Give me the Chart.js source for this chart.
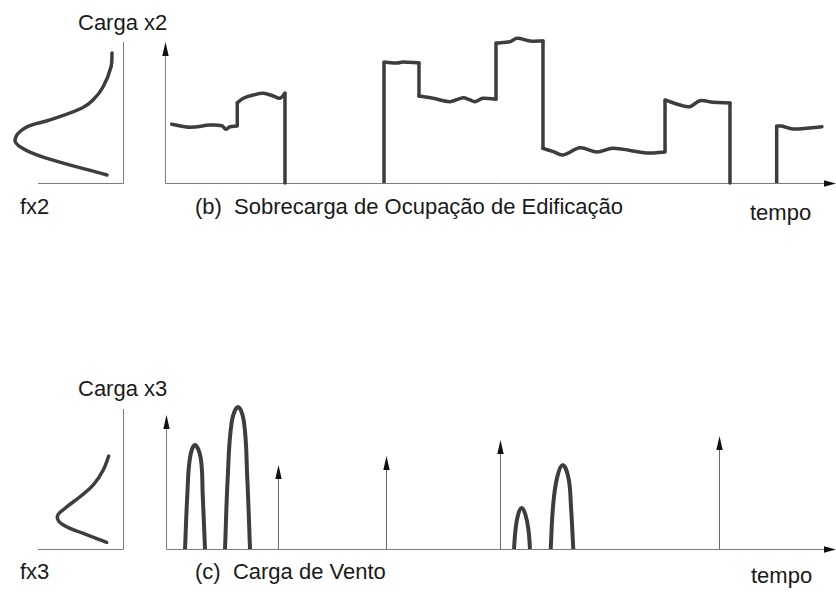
<!DOCTYPE html>
<html lang="pt">
<head>
    <meta charset="UTF-8">
    <title>Carga x2 e Carga x3 ao longo do tempo</title>
    <style>
        body { margin: 0; width: 836px; height: 592px; position: relative; overflow: hidden; background: #fff;
               font-family: "Liberation Sans", Arial, sans-serif; }
        canvas { position: absolute; }
        .lbl { position: absolute; font-size: 22px; line-height: 22px; color: #1a1a1a; white-space: pre; }
    </style>
    <script src="https://cdn.jsdelivr.net/npm/chart.js"></script>
</head>
<body>
    <div class="lbl" style="left:78px; top:12px">Carga x2</div>
    <div class="lbl" style="left:20px; top:196px">fx2</div>
    <div class="lbl" style="left:195px; top:196px">(b)  Sobrecarga de Ocupação de Edificação</div>
    <div class="lbl" style="left:750px; top:202px">tempo</div>

    <div class="lbl" style="left:78px; top:378px">Carga x3</div>
    <div class="lbl" style="left:20px; top:561px">fx3</div>
    <div class="lbl" style="left:195px; top:561px">(c)  Carga de Vento</div>
    <div class="lbl" style="left:751px; top:565px">tempo</div>

    <canvas id="dens2"></canvas>
    <canvas id="ocup"></canvas>
    <canvas id="dens3"></canvas>
    <canvas id="vento"></canvas>

    <script>
        // (b) sobrecarga de ocupação: patamares (tempo 0..100, carga 0..10)
        const ocupTempo = [
            [1.0, 3.73, 6.71, 8.45, 9.09, 9.69, 10.77],
            [10.77, 11.67, 13.16, 14.65, 16.14, 17.14, 17.88],
            [32.64, 34.58, 35.47, 37.85],
            [37.85, 39.94, 42.47, 44.41, 45.45, 46.2, 47.39, 49.33],
            [49.33, 51.42, 52.46, 54.4, 56.33],
            [56.33, 57.87, 59.31, 61.85, 64.38, 66.77, 71.83, 74.52],
            [74.52, 76.75, 78.24, 79.73, 81.67, 84.2],
            [91.16, 91.9, 93.59, 97.91]
        ];
        const ocupCarga = [
            [4.16, 3.95, 4.11, 4.06, 3.81, 3.99, 4.04],
            [5.69, 6.01, 6.24, 6.36, 6.17, 6.01, 6.36],
            [8.58, 8.51, 8.58, 8.51],
            [6.17, 6.01, 5.77, 6.05, 5.89, 5.77, 6.01, 5.94],
            [9.93, 10.02, 10.26, 10.07, 10.07],
            [2.46, 2.22, 1.99, 2.5, 2.2, 2.46, 2.13, 2.2],
            [5.89, 5.53, 5.41, 5.84, 5.72, 5.67],
            [4.04, 4.04, 3.83, 3.99]
        ];
        // saltos verticais: tempo, carga antes, carga depois
        const saltoTempo = [10.77, 17.88, 32.64, 37.85, 49.33, 56.33, 74.52, 84.2, 91.16];
        const saltoDe    = [4.04, 6.36, 0, 8.51, 5.94, 10.07, 2.2, 5.67, 0];
        const saltoPara  = [5.69, 0, 8.58, 6.17, 9.93, 2.46, 5.89, 0, 4.04];

        // densidade fx2 (valor cresce para a esquerda) x carga
        const dens2Valor = [0.129, 0.141, 0.235, 0.353, 0.482, 0.859, 1.153, 1.271, 1.188, 0.941, 0.188];
        const dens2Carga = [9.22, 8.23, 6.81, 5.89, 5.32, 4.47, 3.9, 3.05, 2.48, 1.84, 0.57];

        // (c) carga de vento: rajadas (arcos) e impulsos (setas)
        const ventoTempo = [2.84, 3.18, 3.58, 4.33, 5.18, 5.48, 5.82,
                            7.5,
                            8.81, 9.21, 9.81, 10.75, 11.64, 12.13, 12.54,
                            30,
                            51.94, 52.16, 52.54, 53.09, 53.66, 54.1, 54.33,
                            56,
                            57.42, 57.76, 58.36, 59.22, 60.07, 60.45, 60.79];
        const ventoCarga = [0, 4.03, 6.79, 7.76, 6.79, 4.03, 0,
                            null,
                            0, 5.3, 9.48, 10.6, 9.48, 5.3, 0,
                            null,
                            0, 1.42, 2.54, 3.06, 2.54, 1.42, 0,
                            null,
                            0, 3.13, 5.3, 6.27, 5.3, 3.13, 0];
        const impulsoTempo = [16.72, 32.84, 49.85, 82.54];
        const impulsoCarga = [6.27, 6.94, 8.13, 8.43];

        // densidade fx3
        const dens3Valor = [0.168, 0.232, 0.349, 0.506, 0.682, 0.773, 0.702, 0.467, 0.192];
        const dens3Carga = [6.94, 5.9, 4.78, 3.9, 3.04, 2.41, 1.79, 1.17, 0.5];

        const pontos = (xs, ys) => xs.map((x, i) => ({ x: x, y: ys[i] }));
        const traco = '#3d3d3d';

        function seta(ctx, x, y, dir) {
            ctx.beginPath();
            if (dir === 'up') {
                ctx.moveTo(x, y); ctx.lineTo(x - 3.2, y + 14); ctx.lineTo(x + 3.2, y + 14);
            } else {
                ctx.moveTo(x, y); ctx.lineTo(x - 12, y - 3.2); ctx.lineTo(x - 12, y + 3.2);
            }
            ctx.closePath();
            ctx.fillStyle = '#111';
            ctx.fill();
        }

        function eixos(tipo) {
            return {
                id: 'eixos',
                beforeDatasetsDraw(chart) {
                    const ctx = chart.ctx, a = chart.chartArea;
                    ctx.save();
                    ctx.strokeStyle = '#7c7c7c';
                    ctx.lineWidth = 1;
                    ctx.beginPath();
                    if (tipo === 'dens') {
                        ctx.moveTo(a.right + 0.5, a.top);
                        ctx.lineTo(a.right + 0.5, a.bottom + 0.5);
                        ctx.lineTo(a.left, a.bottom + 0.5);
                    } else {
                        ctx.moveTo(a.left + 0.5, a.top + 10);
                        ctx.lineTo(a.left + 0.5, a.bottom + 0.5);
                        ctx.lineTo(a.right - 8, a.bottom + 0.5);
                    }
                    ctx.stroke();
                    if (tipo !== 'dens') {
                        seta(ctx, a.left + 0.5, a.top, 'up');
                        seta(ctx, a.right, a.bottom + 0.5, 'right');
                    }
                    ctx.restore();
                }
            };
        }

        const impulsos = {
            id: 'impulsos',
            afterDatasetsDraw(chart) {
                const ctx = chart.ctx, sx = chart.scales.x, sy = chart.scales.y;
                ctx.save();
                impulsoTempo.forEach((t, i) => {
                    const px = Math.round(sx.getPixelForValue(t)) + 0.5;
                    const top = sy.getPixelForValue(impulsoCarga[i]);
                    ctx.strokeStyle = '#6a6a6a';
                    ctx.lineWidth = 1;
                    ctx.beginPath();
                    ctx.moveTo(px, sy.getPixelForValue(0));
                    ctx.lineTo(px, top + 8);
                    ctx.stroke();
                    seta(ctx, px, top, 'up');
                });
                ctx.restore();
            }
        };

        function grafico(id, area, pad, xs, ys, datasets, plugins) {
            const c = document.getElementById(id);
            c.width = area.right - area.left + pad.l + pad.r;
            c.height = area.bottom - area.top + pad.t + pad.b;
            c.style.left = (area.left - pad.l) + 'px';
            c.style.top = (area.top - pad.t) + 'px';
            return new Chart(c.getContext('2d'), {
                type: 'line',
                data: { datasets: datasets },
                options: {
                    responsive: false,
                    animation: false,
                    events: [],
                    layout: { padding: { left: pad.l, right: pad.r, top: pad.t, bottom: pad.b } },
                    plugins: { legend: { display: false }, tooltip: { enabled: false } },
                    scales: {
                        x: Object.assign({ type: 'linear', display: false }, xs),
                        y: Object.assign({ type: 'linear', display: false }, ys)
                    }
                },
                plugins: plugins
            });
        }

        function serie(data, tension, width) {
            return {
                data: data,
                borderColor: traco,
                borderWidth: width,
                pointRadius: 0,
                tension: tension,
                spanGaps: false,
                clip: false,
                borderJoinStyle: 'round',
                borderCapStyle: 'round'
            };
        }

        // patamares suavizados + saltos retos (separados por null)
        const ocupSets = ocupTempo.map((ts, k) => serie(pontos(ts, ocupCarga[k]), 0.35, 3.5));
        const saltos = [];
        saltoTempo.forEach((t, i) => {
            saltos.push({ x: t, y: saltoDe[i] }, { x: t, y: saltoPara[i] }, { x: t, y: null });
        });
        const saltoSet = serie(saltos, 0, 3.5);
        saltoSet.borderCapStyle = 'butt';

        grafico('dens2', { left: 38, right: 123, top: 42, bottom: 183 }, { l: 33, r: 6, t: 10, b: 6 },
            { min: 0, max: 1, reverse: true }, { min: 0, max: 10 },
            [serie(pontos(dens2Valor, dens2Carga), 0.4, 3.5)], [eixos('dens')]);

        grafico('ocup', { left: 165, right: 836, top: 42, bottom: 183 }, { l: 10, r: 0, t: 10, b: 6 },
            { min: 0, max: 100 }, { min: 0, max: 10 },
            ocupSets.concat([saltoSet]), [eixos('tempo')]);

        grafico('dens3', { left: 38, right: 123, top: 409, bottom: 549 }, { l: 33, r: 6, t: 6, b: 6 },
            { min: 0, max: 1, reverse: true }, { min: 0, max: 10.45 },
            [serie(pontos(dens3Valor, dens3Carga), 0.4, 3.5)], [eixos('dens')]);

        const ventoSet = serie(pontos(ventoTempo, ventoCarga), 0.4, 4);
        ventoSet.borderCapStyle = 'butt';
        grafico('vento', { left: 166, right: 836, top: 415, bottom: 549 }, { l: 10, r: 0, t: 14, b: 6 },
            { min: 0, max: 100 }, { min: 0, max: 10 },
            [ventoSet], [eixos('tempo'), impulsos]);
    </script>
</body>
</html>
